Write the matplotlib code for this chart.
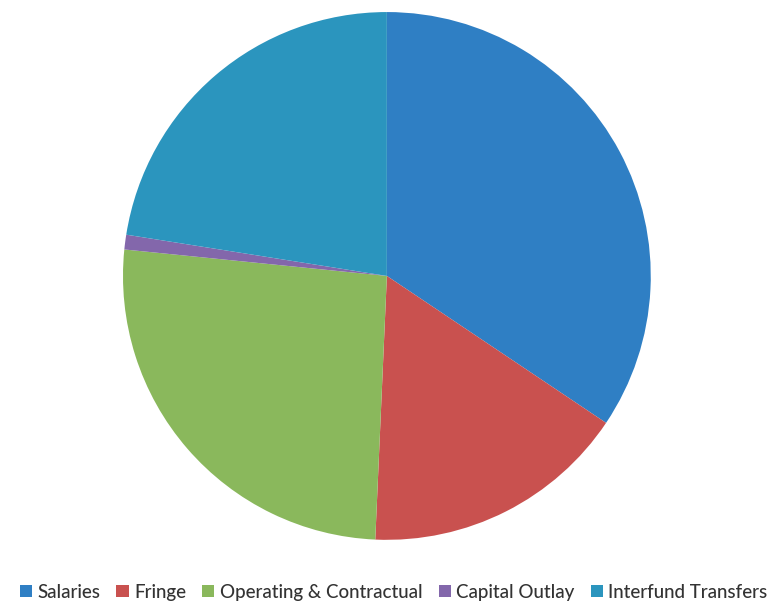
import matplotlib.pyplot as plt
from matplotlib.patches import Patch

# Expenditure shares by category (percent)
categories = ['Salaries', 'Fringe', 'Operating & Contractual', 'Capital Outlay', 'Interfund Transfers']
shares = [34.4, 16.3, 25.9, 0.9, 22.5]
colors = ['#2F7FC4', '#C9514F', '#8AB85C', '#8367AB', '#2B95BE']

fig = plt.figure(figsize=(7.75, 6.05), dpi=100)
ax = fig.add_axes([0.1587, 0.1074, 0.681, 0.873])

ax.pie(shares, colors=colors, startangle=90, counterclock=False,
       wedgeprops={'linewidth': 0})
ax.set_xlim(-1, 1)
ax.set_ylim(-1, 1)
ax.set_aspect('equal')

handles = [Patch(facecolor=c, edgecolor='none', label=l) for c, l in zip(colors, categories)]
fig.legend(handles=handles, loc='center', bbox_to_anchor=(0.508, 0.021), ncol=5,
           frameon=False, handlelength=0.65, handleheight=0.65, handletextpad=0.3,
           columnspacing=0.85, prop={'family': 'Lato', 'size': 13.5, 'weight': 'medium'},
           labelcolor='#333333')

fig.savefig('out.png', dpi=100)
plt.close(fig)
